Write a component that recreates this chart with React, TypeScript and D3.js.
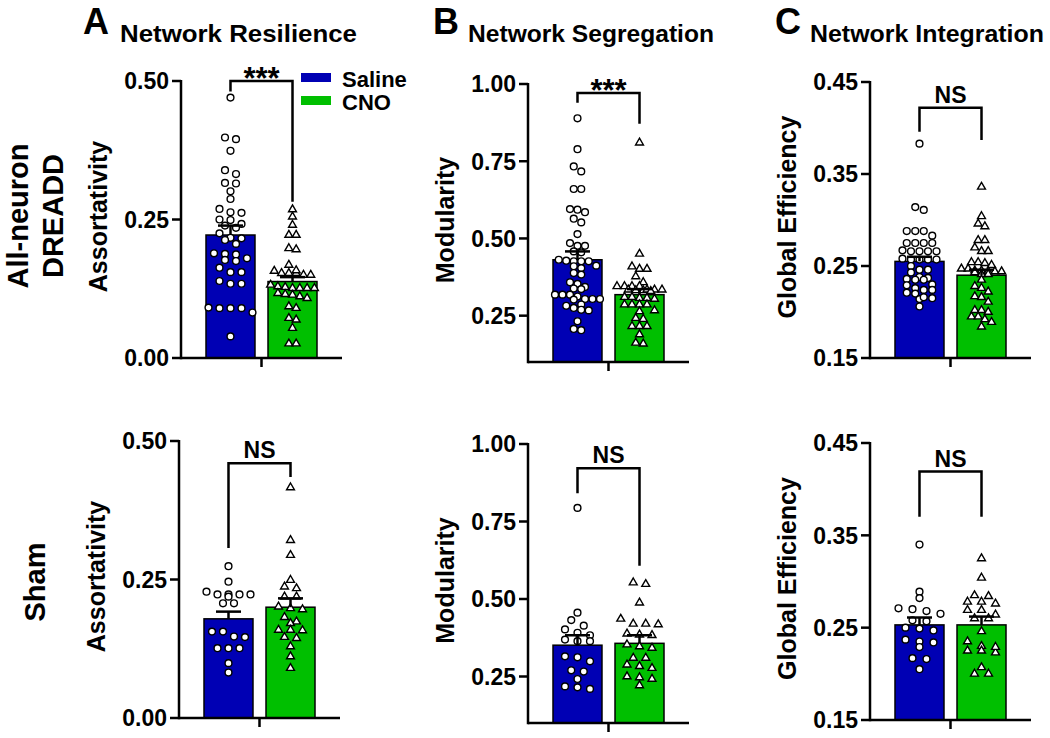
import React from 'react';
import * as d3 from 'd3';

const groups = ['Saline', 'CNO'];
const groupColors = ['#0000b4', '#00bf00'];
const sigLabels = ['***', '***', 'NS', 'NS', 'NS', 'NS'];

const resilienceTicks = [0, 0.25, 0.5];
const segregationTicks = [0.25, 0.5, 0.75, 1.0];
const integrationTicks = [0.15, 0.25, 0.35, 0.45];
const resilienceDomain = [0, 0.5];
const segregationDomain = [0.1, 1.0];
const integrationDomain = [0.15, 0.45];

// All-neuron DREADD row
const resilienceDreaddSaline = [0.470, 0.395, 0.398, 0.374, 0.339, 0.332, 0.316, 0.315, 0.301, 0.287, 0.269, 0.262, 0.263, 0.249, 0.250, 0.242, 0.239, 0.235, 0.225, 0.217, 0.216, 0.213, 0.206, 0.188, 0.187, 0.189, 0.180, 0.177, 0.175, 0.163, 0.155, 0.155, 0.139, 0.134, 0.134, 0.090, 0.091, 0.090, 0.090, 0.082, 0.039];
const resilienceDreaddCno = [0.268, 0.255, 0.240, 0.222, 0.222, 0.198, 0.196, 0.168, 0.153, 0.157, 0.153, 0.150, 0.153, 0.158, 0.150, 0.132, 0.126, 0.126, 0.128, 0.129, 0.126, 0.126, 0.117, 0.111, 0.114, 0.115, 0.108, 0.093, 0.090, 0.072, 0.069, 0.054, 0.026, 0.026];
const segregationDreaddSaline = [0.889, 0.789, 0.733, 0.717, 0.660, 0.660, 0.593, 0.595, 0.585, 0.564, 0.552, 0.514, 0.485, 0.476, 0.476, 0.455, 0.458, 0.431, 0.428, 0.426, 0.426, 0.426, 0.412, 0.410, 0.404, 0.388, 0.383, 0.358, 0.353, 0.343, 0.336, 0.338, 0.318, 0.318, 0.318, 0.312, 0.304, 0.304, 0.302, 0.304, 0.286, 0.282, 0.275, 0.269, 0.267, 0.232, 0.203, 0.207];
const segregationDreaddCno = [0.810, 0.450, 0.409, 0.401, 0.401, 0.377, 0.358, 0.345, 0.345, 0.345, 0.345, 0.332, 0.332, 0.334, 0.334, 0.334, 0.334, 0.329, 0.310, 0.310, 0.307, 0.307, 0.304, 0.286, 0.286, 0.286, 0.286, 0.264, 0.267, 0.242, 0.239, 0.216, 0.216, 0.216, 0.189, 0.159, 0.162];
const integrationDreaddSaline = [0.383, 0.311, 0.314, 0.288, 0.288, 0.288, 0.283, 0.275, 0.275, 0.275, 0.275, 0.267, 0.266, 0.266, 0.266, 0.266, 0.258, 0.257, 0.257, 0.257, 0.257, 0.250, 0.246, 0.246, 0.243, 0.238, 0.237, 0.236, 0.235, 0.235, 0.230, 0.229, 0.226, 0.224, 0.224, 0.221, 0.220, 0.215, 0.214, 0.216, 0.206];
const integrationDreaddCno = [0.336, 0.304, 0.296, 0.293, 0.278, 0.278, 0.270, 0.266, 0.266, 0.254, 0.254, 0.253, 0.251, 0.247, 0.247, 0.245, 0.245, 0.244, 0.244, 0.244, 0.243, 0.241, 0.241, 0.235, 0.228, 0.226, 0.222, 0.217, 0.216, 0.211, 0.202, 0.202, 0.200, 0.195, 0.195, 0.192, 0.189, 0.184];

const resilienceDreaddMean = [0.222, 0.138];
const resilienceDreaddSem = [0.017, 0.008];
const segregationDreaddMean = [0.431, 0.318];
const segregationDreaddSem = [0.027, 0.018];
const integrationDreaddMean = [0.255, 0.240];
const integrationDreaddSem = [0.005, 0.006];

// Sham row
const resilienceShamSaline = [0.274, 0.246, 0.228, 0.223, 0.223, 0.223, 0.223, 0.219, 0.207, 0.207, 0.156, 0.156, 0.147, 0.146, 0.126, 0.126, 0.126, 0.099, 0.082];
const resilienceShamCno = [0.416, 0.321, 0.294, 0.249, 0.237, 0.234, 0.219, 0.219, 0.201, 0.198, 0.196, 0.182, 0.174, 0.171, 0.159, 0.158, 0.159, 0.144, 0.146, 0.129, 0.111, 0.090];
const segregationShamSaline = [0.794, 0.456, 0.414, 0.432, 0.402, 0.383, 0.391, 0.364, 0.364, 0.369, 0.299, 0.312, 0.315, 0.270, 0.266, 0.242, 0.218, 0.210, 0.215];
const segregationShamCno = [0.553, 0.548, 0.488, 0.436, 0.420, 0.420, 0.418, 0.385, 0.388, 0.383, 0.342, 0.347, 0.353, 0.310, 0.310, 0.277, 0.288, 0.283, 0.247, 0.250, 0.242, 0.221];
const integrationShamSaline = [0.340, 0.289, 0.282, 0.268, 0.270, 0.271, 0.265, 0.257, 0.258, 0.247, 0.250, 0.249, 0.237, 0.234, 0.235, 0.229, 0.217, 0.216, 0.205];
const integrationShamCno = [0.325, 0.304, 0.284, 0.276, 0.285, 0.278, 0.269, 0.278, 0.269, 0.264, 0.260, 0.260, 0.246, 0.230, 0.223, 0.235, 0.225, 0.225, 0.229, 0.200, 0.200, 0.207];

const resilienceShamMean = [0.179, 0.200];
const resilienceShamSem = [0.013, 0.016];
const segregationShamMean = [0.351, 0.357];
const segregationShamSem = [0.032, 0.026];
const integrationShamMean = [0.253, 0.253];
const integrationShamSem = [0.008, 0.009];

// brackets: [left end, top, right end]
const resilienceDreaddBracket = [0.481, 0.5, 0.282];
const segregationDreaddBracket = [0.939, 0.971, 0.871];
const integrationDreaddBracket = [0.396, 0.422, 0.387];
const resilienceShamBracket = [0.307, 0.460, 0.435];
const segregationShamBracket = [0.841, 0.922, 0.607];
const integrationShamBracket = [0.370, 0.419, 0.370];

const FONT = "'Liberation Sans', Arial, Helvetica, sans-serif";

function swarm(vals: number[], y: (v: number) => number, cx: number, step: number, rowH: number, maxPerRow: number) {
  const idx = vals.map((_, i) => i).sort((a, b) => vals[b] - vals[a]);
  const out: { x: number; y: number }[] = new Array(vals.length);
  let i = 0;
  while (i < idx.length) {
    const y0 = y(vals[idx[i]]);
    const row = [idx[i]];
    i++;
    while (i < idx.length && y(vals[idx[i]]) - y0 < rowH && row.length < maxPerRow) {
      row.push(idx[i]);
      i++;
    }
    row.forEach((k, j) => {
      out[k] = { x: cx + (j - (row.length - 1) / 2) * step, y: y(vals[k]) };
    });
  }
  return out;
}

const triPath = d3.symbol(d3.symbolTriangle, 27)() as string;

function Panel(props: any) {
  const { x0, yTop, yBottom, domain, ticks, saline, cno, means, sems, bracket, sig, ylabel, steps, legend } = props;
  const y = d3.scaleLinear().domain(domain).range([yBottom, yTop]);
  const xb = d3.scaleBand().domain(groups).range([x0 + 25, x0 + 136]).paddingInner(0.21).paddingOuter(0);
  const bw = xb.bandwidth();
  const fmt = d3.format('.2f');
  const cx = groups.map((g) => (xb(g) as number) + bw / 2);
  const mid = (cx[0] + cx[1]) / 2;
  const series = [saline, cno];
  const pts = series.map((vals: number[], gi: number) => {
    const step = steps[gi];
    const maxPerRow = Math.floor(46 / step) + 1;
    return swarm(vals, y, cx[gi], step, 6, maxPerRow);
  });
  return (
    <g>
      {groups.map((g, gi) => (
        <rect key={g} x={xb(g)} y={y(means[gi])} width={bw} height={y(domain[0]) - y(means[gi])}
          fill={groupColors[gi]} stroke="#000" strokeWidth={1.5} />
      ))}
      {pts[0].map((p: any, i: number) => (
        <circle key={'s' + i} cx={p.x} cy={p.y} r={3.4} fill="#fff" stroke="#000" strokeWidth={1.4} />
      ))}
      {pts[1].map((p: any, i: number) => (
        <path key={'c' + i} d={triPath} transform={`translate(${p.x},${p.y})`} fill="#fff" stroke="#000" strokeWidth={1.4} />
      ))}
      {groups.map((g, gi) => (
        <g key={'e' + g} stroke="#000" strokeWidth={2.5}>
          <line x1={cx[gi]} x2={cx[gi]} y1={y(means[gi])} y2={y(means[gi] + sems[gi])} />
          <line x1={cx[gi] - 12.5} x2={cx[gi] + 12.5} y1={y(means[gi] + sems[gi])} y2={y(means[gi] + sems[gi])} />
        </g>
      ))}
      <g stroke="#000" strokeWidth={2.5} fill="none">
        <line x1={x0} x2={x0} y1={y(domain[1]) - 1} y2={y(domain[0]) + 1.25} />
        <line x1={x0} x2={x0 + 161} y1={y(domain[0])} y2={y(domain[0])} />
        <line x1={mid} x2={mid} y1={y(domain[0])} y2={y(domain[0]) + 9} />
        {ticks.map((t: number) => (
          <line key={t} x1={x0 - 9} x2={x0} y1={y(t)} y2={y(t)} />
        ))}
      </g>
      {ticks.map((t: number) => (
        <text key={'t' + t} x={x0 - 12} y={y(t)} dy="0.36em" textAnchor="end" fontSize={23} fontWeight="bold" fontFamily={FONT}>
          {fmt(t)}
        </text>
      ))}
      <text transform={`translate(${x0 - 74},${(yTop + yBottom) / 2 - 3}) rotate(-90)`} textAnchor="middle"
        fontSize={25} fontWeight="bold" fontFamily={FONT}>{ylabel}</text>
      <path d={`M${cx[0]},${y(bracket[0])}V${y(bracket[1])}H${cx[1]}V${y(bracket[2])}`} fill="none" stroke="#000" strokeWidth={2.5} />
      {sig === '***' ? (
        <text x={mid} y={y(bracket[1]) + 8} textAnchor="middle" fontSize={31} fontWeight="bold" fontFamily={FONT}>{sig}</text>
      ) : (
        <text x={mid} y={y(bracket[1]) - 5} textAnchor="middle" fontSize={23} fontWeight="bold" fontFamily={FONT}>{sig}</text>
      )}
      {legend && (
        <g fontFamily={FONT} fontWeight="bold" fontSize={22}>
          {groups.map((g, gi) => (
            <g key={'l' + g}>
              <rect x={x0 + 120} y={73 + gi * 23} width={30} height={9} fill={groupColors[gi]} />
              <text x={x0 + 161} y={87 + gi * 23}>{g}</text>
            </g>
          ))}
        </g>
      )}
    </g>
  );
}

export default function App() {
  return (
    <svg width={1050} height={738} style={{ position: 'absolute', left: 0, top: 0, background: '#fff' }}>
      <rect width={1050} height={738} fill="#fff" />
      <g fontFamily={FONT} fontWeight="bold">
        <text x={83} y={34} fontSize={36}>A</text>
        <text x={120} y={42} fontSize={24} textLength={237} lengthAdjust="spacingAndGlyphs">Network Resilience</text>
        <text x={433} y={34} fontSize={36}>B</text>
        <text x={468} y={42} fontSize={24} textLength={246} lengthAdjust="spacingAndGlyphs">Network Segregation</text>
        <text x={775} y={34} fontSize={36}>C</text>
        <text x={810} y={42} fontSize={24} textLength={234} lengthAdjust="spacingAndGlyphs">Network Integration</text>
      </g>
      <g fontFamily={FONT} fontWeight="bold" fontSize={29} textAnchor="middle">
        <text transform="translate(28,216) rotate(-90)">All-neuron</text>
        <text transform="translate(63,216) rotate(-90)">DREADD</text>
        <text transform="translate(45,582) rotate(-90)">Sham</text>
      </g>
      <Panel x0={181} yTop={81} yBottom={358} domain={resilienceDomain} ticks={resilienceTicks}
        saline={resilienceDreaddSaline} cno={resilienceDreaddCno} means={resilienceDreaddMean} sems={resilienceDreaddSem}
        bracket={resilienceDreaddBracket} sig={sigLabels[0]} ylabel="Assortativity" steps={[11, 7.3]} legend />
      <Panel x0={528} yTop={84} yBottom={362} domain={segregationDomain} ticks={segregationTicks}
        saline={segregationDreaddSaline} cno={segregationDreaddCno} means={segregationDreaddMean} sems={segregationDreaddSem}
        bracket={segregationDreaddBracket} sig={sigLabels[1]} ylabel="Modularity" steps={[7.5, 7.5]} />
      <Panel x0={870} yTop={82} yBottom={358} domain={integrationDomain} ticks={integrationTicks}
        saline={integrationDreaddSaline} cno={integrationDreaddCno} means={integrationDreaddMean} sems={integrationDreaddSem}
        bracket={integrationDreaddBracket} sig={sigLabels[2]} ylabel="Global Efficiency" steps={[8.5, 6.7]} />
      <Panel x0={179} yTop={441} yBottom={718} domain={resilienceDomain} ticks={resilienceTicks}
        saline={resilienceShamSaline} cno={resilienceShamCno} means={resilienceShamMean} sems={resilienceShamSem}
        bracket={resilienceShamBracket} sig={sigLabels[3]} ylabel="Assortativity" steps={[11, 12]} />
      <Panel x0={528} yTop={444} yBottom={723} domain={segregationDomain} ticks={segregationTicks}
        saline={segregationShamSaline} cno={segregationShamCno} means={segregationShamMean} sems={segregationShamSem}
        bracket={segregationShamBracket} sig={sigLabels[4]} ylabel="Modularity" steps={[12.5, 12.5]} />
      <Panel x0={870} yTop={443} yBottom={720} domain={integrationDomain} ticks={integrationTicks}
        saline={integrationShamSaline} cno={integrationShamCno} means={integrationShamMean} sems={integrationShamSem}
        bracket={integrationShamBracket} sig={sigLabels[5]} ylabel="Global Efficiency" steps={[14, 14]} />
    </svg>
  );
}
